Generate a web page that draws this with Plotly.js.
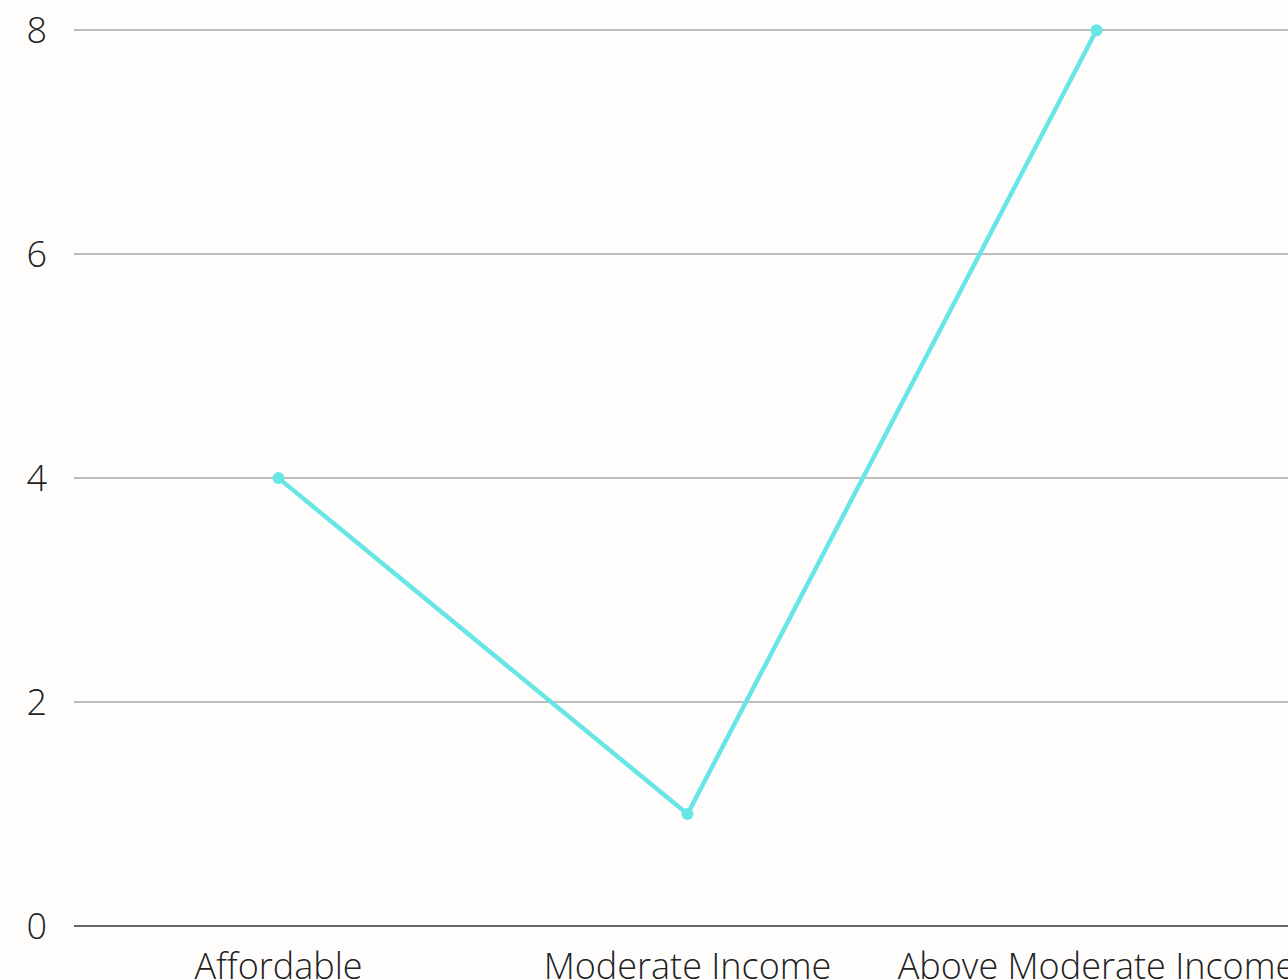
<!DOCTYPE html>
<html>
<head>
<meta charset="utf-8">
<script src="https://cdn.plot.ly/plotly-3.0.1.min.js"></script>
<style>
html, body { margin: 0; padding: 0; overflow: hidden; background: #fefdfc; }
#chart { width: 1301px; height: 1010px; }
</style>
</head>
<body>
<div id="chart"></div>
<script>
const categories = ["Affordable", "Moderate Income", "Above Moderate Income"];
const values = [4, 1, 8];
const yTicks = [0, 2, 4, 6, 8];

const trace = {
  type: "scatter",
  mode: "lines+markers",
  x: categories,
  y: values,
  line: { color: "#68e6e6", width: 4.5 },
  marker: { color: "#68e6e6", size: 12 },
  hoverinfo: "none",
  cliponaxis: false
};

const layout = {
  width: 1301,
  height: 1010,
  margin: { l: 74, r: 0, t: 28, b: 84 },
  paper_bgcolor: "#fefdfc",
  plot_bgcolor: "#fefdfc",
  showlegend: false,
  font: { family: "Open Sans", size: 36, color: "#222", weight: 300 },
  xaxis: {
    type: "category",
    range: [-0.5, 2.5],
    showgrid: false,
    zeroline: false,
    showline: false,
    ticks: "",
    ticklabelstandoff: 16,
    tickfont: { family: "Open Sans", size: 36, color: "#222", weight: 300 },
    fixedrange: true
  },
  yaxis: {
    range: [0, 8.02],
    tickvals: yTicks,
    showgrid: true,
    gridcolor: "#bdbdbd",
    gridwidth: 1.5,
    zeroline: true,
    zerolinecolor: "#666",
    zerolinewidth: 2,
    showline: false,
    ticks: "",
    ticklabelstandoff: 26,
    tickfont: { family: "Open Sans", size: 36, color: "#222", weight: 300 },
    fixedrange: true
  }
};

Plotly.newPlot("chart", [trace], layout, { displayModeBar: false, staticPlot: true });
</script>
</body>
</html>
